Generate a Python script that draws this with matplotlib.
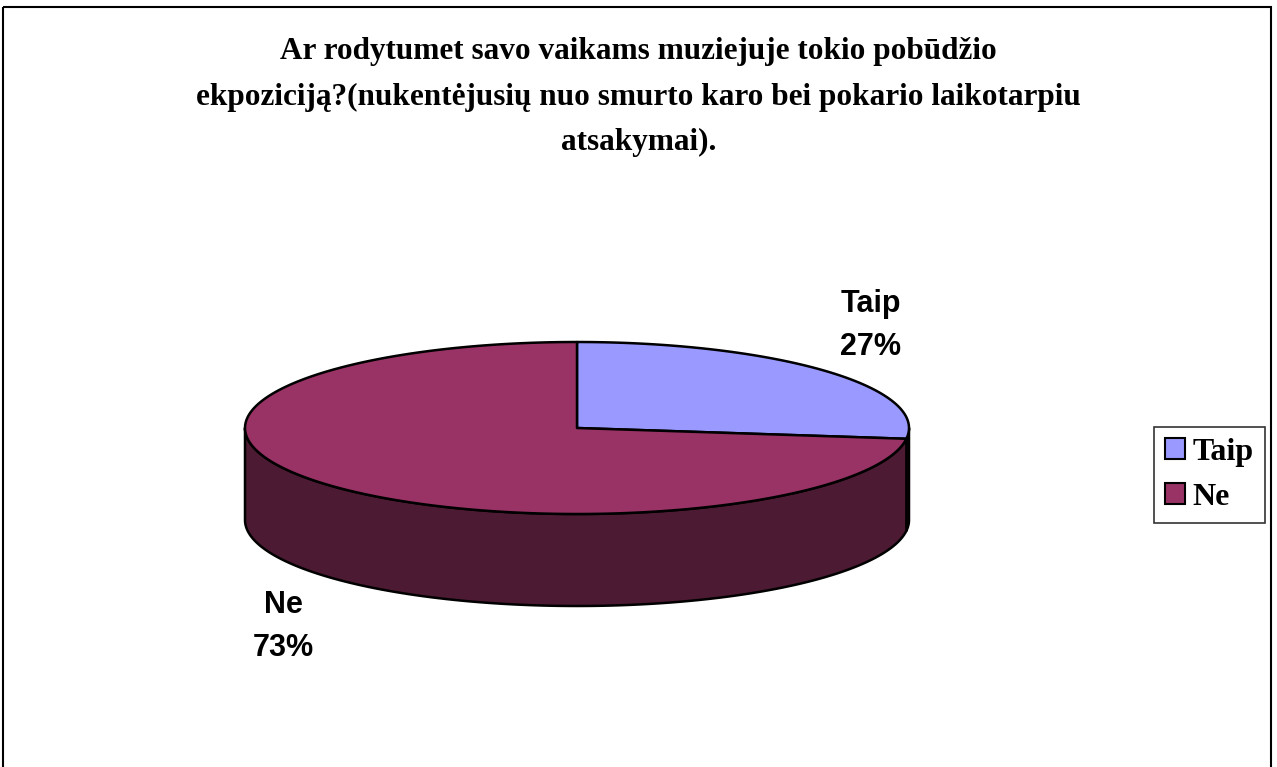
import numpy as np
import matplotlib
matplotlib.use("Agg")
import matplotlib.pyplot as plt
from matplotlib.patches import Polygon, Rectangle, Patch

title = ("Ar rodytumet savo vaikams muziejuje tokio pobūdžio\n"
         "ekpoziciją?(nukentėjusių nuo smurto karo bei pokario laikotarpiu\n"
         "atsakymai).")
labels = ["Taip", "Ne"]
values = [27, 73]
top_colors = ["#9999FF", "#993366"]
side_colors = ["#4D4D80", "#4C1A33"]

W, H = 1277, 767
fig = plt.figure(figsize=(W / 100, H / 100), dpi=100)
ax = fig.add_axes([0, 0, 1, 1])
ax.set_xlim(0, W)
ax.set_ylim(H, 0)
ax.axis("off")

# chart area border
ax.add_patch(Rectangle((3, 7), 1268, 800, fill=False, edgecolor="black", lw=1.5))

cx, cy, rx, ry, depth = 577, 428, 332, 86, 92


def pt(t, dy=0.0):
    r = np.deg2rad(t)
    return cx + rx * np.cos(r), cy - ry * np.sin(r) + dy


total = sum(values)
angles = []
a = 90.0
for v in values:
    span = 360.0 * v / total
    angles.append((a - span, a))
    a -= span

# side walls (front half only)
for (a1, a2), col in zip(angles, side_colors):
    for k in range(-2, 2):
        lo, hi = max(a1, 180 + 360 * k), min(a2, 360 + 360 * k)
        if hi > lo:
            ts = np.linspace(lo, hi, 200)
            top = [pt(t) for t in ts]
            bot = [pt(t, depth) for t in ts[::-1]]
            ax.add_patch(Polygon(top + bot, closed=True, facecolor=col,
                                 edgecolor="black", lw=1.8, joinstyle="round"))

# top faces
for (a1, a2), col in zip(angles, top_colors):
    ts = np.linspace(a1, a2, 400)
    verts = [(cx, cy)] + [pt(t) for t in ts]
    ax.add_patch(Polygon(verts, closed=True, facecolor=col,
                         edgecolor="black", lw=1.8, joinstyle="round"))

# data labels
for (a1, a2), lab, v in zip(angles, labels, values):
    mid = np.deg2rad((a1 + a2) / 2)
    x = cx + rx * 1.18 * np.cos(mid)
    y = cy - ry * 1.84 * np.sin(mid) + (depth if np.sin(mid) < 0 else 0)
    ax.text(x, y + 2, f"{lab}\n{v}%", ha="center", va="center",
            fontsize=22, fontweight="bold", family="Liberation Sans",
            linespacing=1.55)

# title
fig.text(0.5, 1 - 97 / H, title, ha="center", va="center",
         fontsize=22.5, fontweight="bold", family="Liberation Serif",
         linespacing=1.75)

# legend
handles = [Patch(facecolor=c, edgecolor="black", lw=1.5) for c in top_colors]
leg = fig.legend(handles, labels, loc="center left",
                 bbox_to_anchor=(1154 / W, 1 - 475 / H),
                 prop={"family": "Liberation Serif", "weight": "bold", "size": 23},
                 frameon=True, fancybox=False, edgecolor="black",
                 handlelength=0.63, handleheight=0.63, handletextpad=0.22,
                 borderpad=0.35, labelspacing=0.5, borderaxespad=0)
leg.get_frame().set_linewidth(1.2)

fig.savefig("out.png", dpi=100)
